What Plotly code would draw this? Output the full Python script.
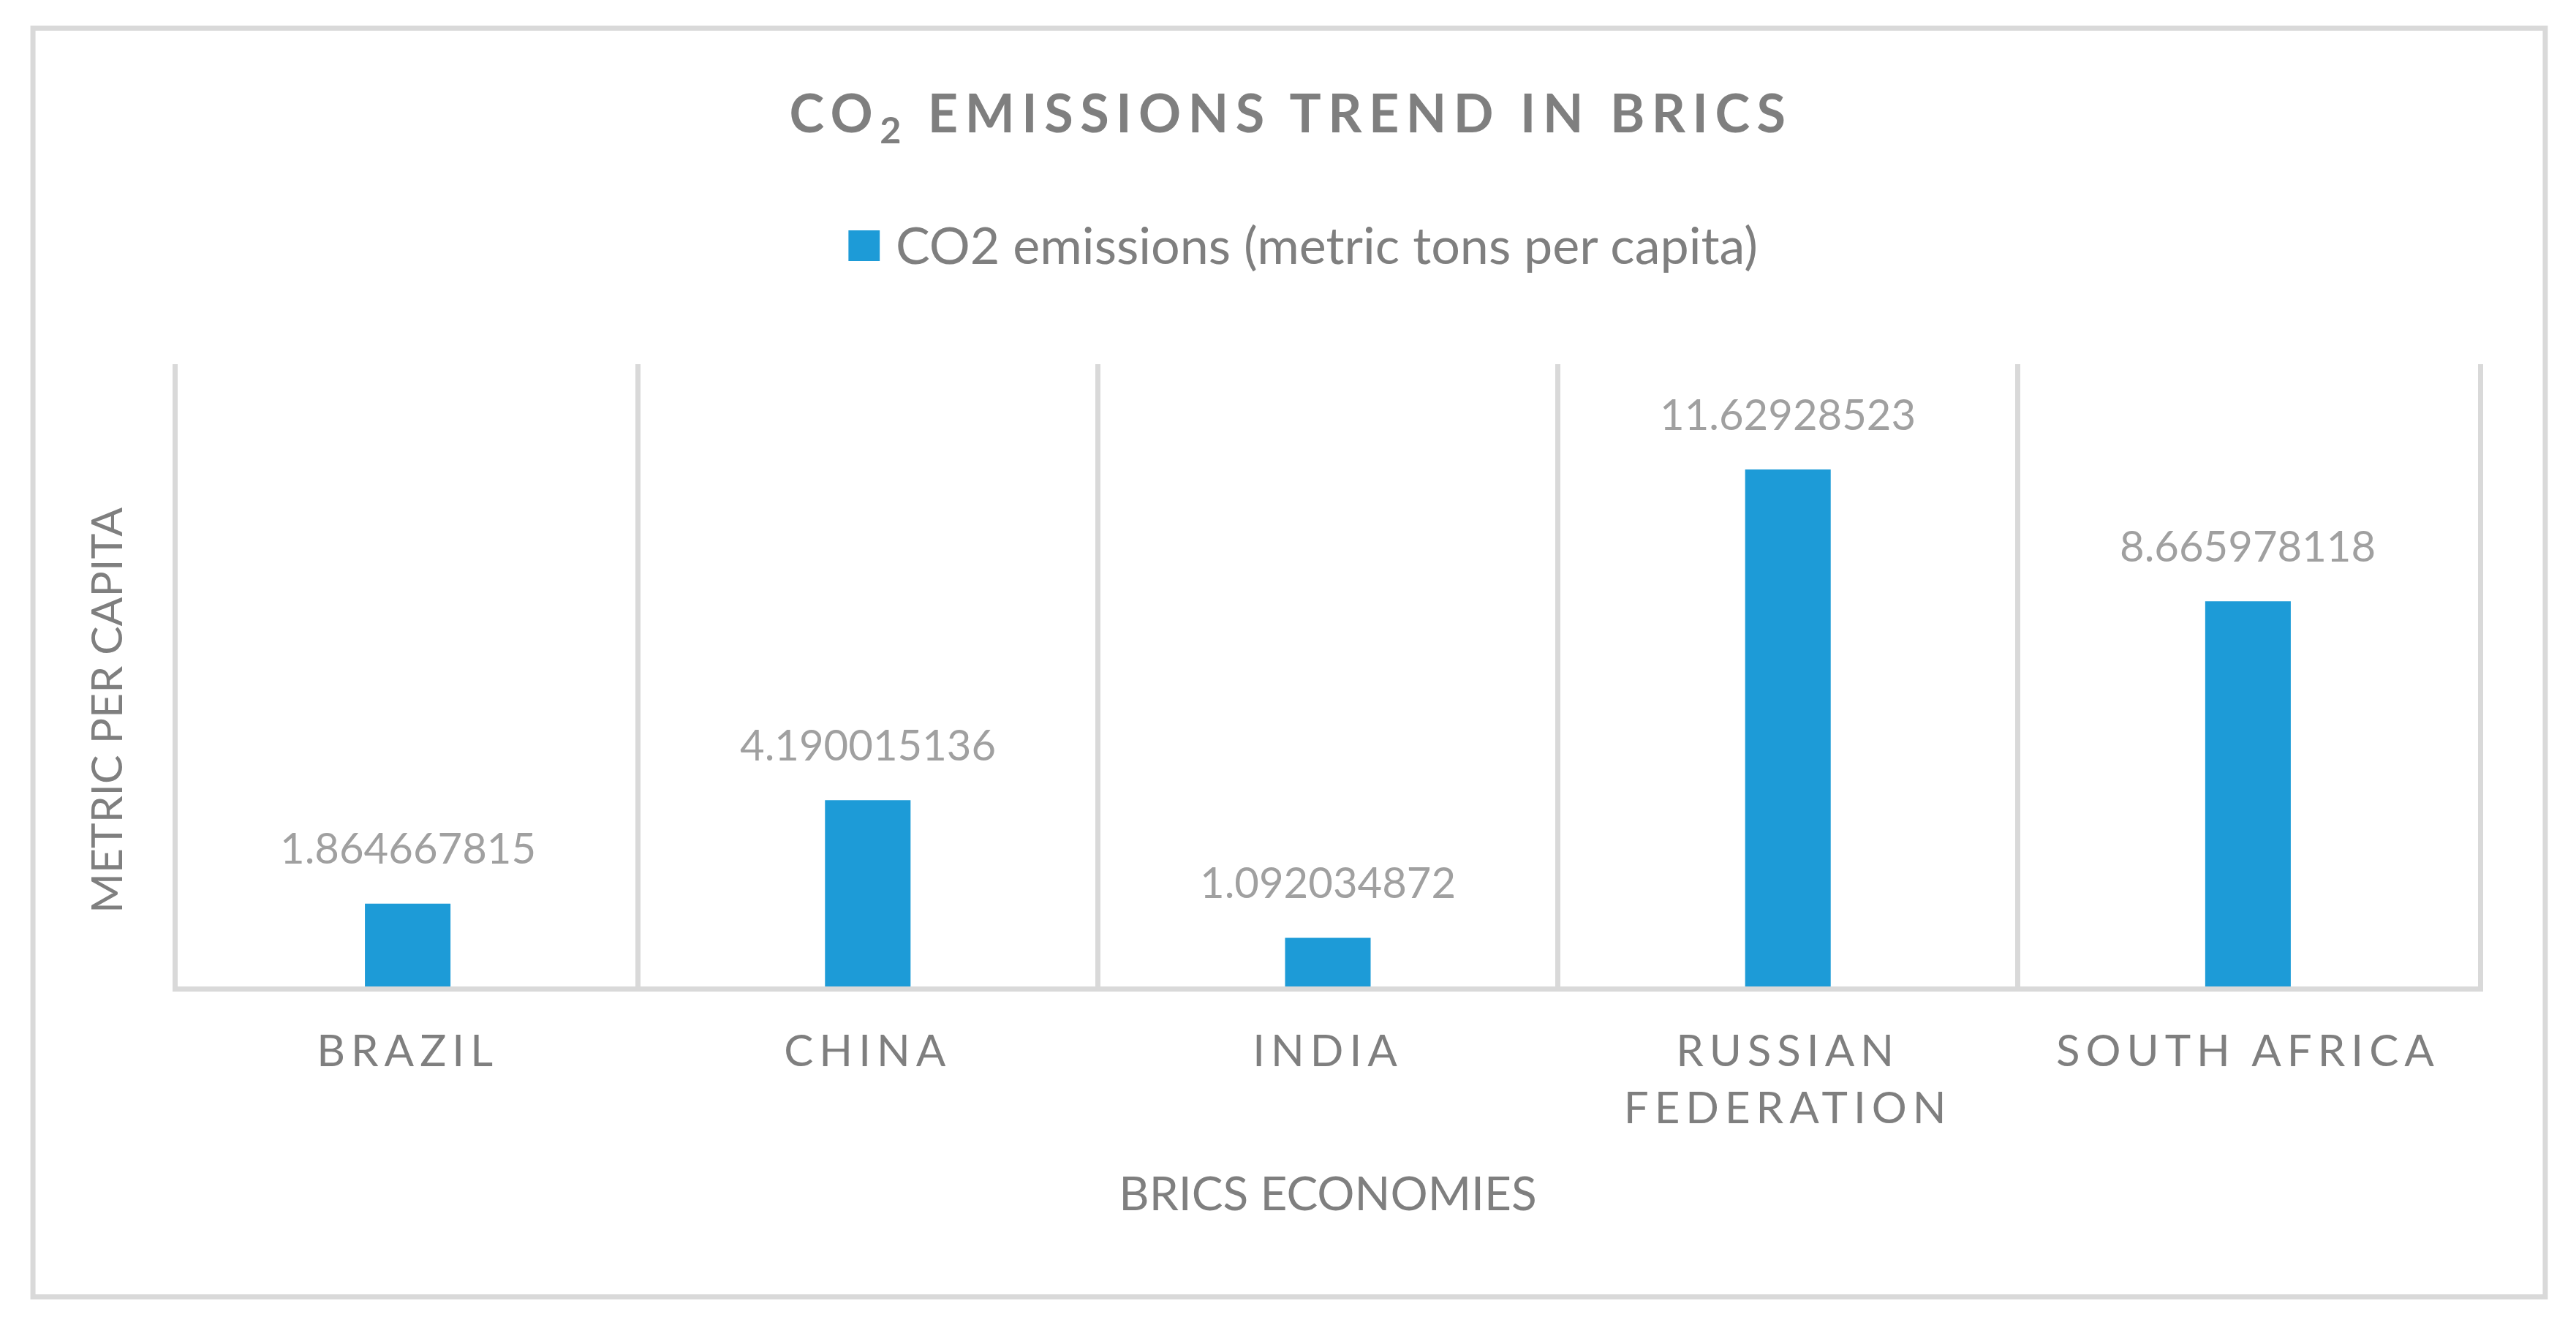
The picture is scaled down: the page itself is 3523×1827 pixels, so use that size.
import plotly.graph_objects as go

countries = ["BRAZIL", "CHINA", "INDIA", "RUSSIAN FEDERATION", "SOUTH AFRICA"]
tick_lines = [["BRAZIL"], ["CHINA"], ["INDIA"], ["RUSSIAN", "FEDERATION"], ["SOUTH AFRICA"]]
co2_per_capita = [1.864667815, 4.190015136, 1.092034872, 11.62928523, 8.665978118]
label_text = ["1.864667815", "4.190015136", "1.092034872", "11.62928523", "8.665978118"]
series_name = "CO2 emissions (metric tons per capita)"

FONT = "Lato"
GREY = "#7f7f7f"
LIGHT = "#d9d9d9"
BLUE = "#1d9bd7"


def spaced(s, px):
    return '<span style="letter-spacing:%spx">%s</span>' % (px, s)


tick_text = ["<br>".join(spaced(l, 8) for l in lines) for lines in tick_lines]

fig = go.Figure()
fig.add_trace(go.Bar(
    x=countries,
    y=co2_per_capita,
    name=series_name,
    marker=dict(color=BLUE, line=dict(width=0)),
    showlegend=False,
))

# value labels sitting above each bar
for c, v, t in zip(countries, co2_per_capita, label_text):
    fig.add_annotation(x=c, y=v, text=t, showarrow=False,
                       yanchor="middle", yshift=77,
                       font=dict(family=FONT, size=58, color="#a0a0a0"))

# legend key drawn by hand so the swatch can be as large as in the original
fig.add_shape(type="rect", xref="paper", yref="paper",
              x0=0.2916, x1=0.3052, y0=1.1657, y1=1.2150,
              fillcolor=BLUE, line=dict(width=0))
fig.add_annotation(xref="paper", yref="paper", x=0.3115, y=1.1927,
                   xanchor="left", yanchor="middle", showarrow=False,
                   text=series_name,
                   font=dict(family=FONT, size=70, color=GREY))

# y axis title
fig.add_annotation(xref="paper", yref="paper", x=-0.0315, y=0.444,
                   textangle=-90, showarrow=False,
                   xanchor="center", yanchor="middle",
                   text="METRIC PER CAPITA",
                   font=dict(family=FONT, size=59, color=GREY))

# outer chart border
fig.add_shape(type="rect", xref="paper", yref="paper",
              x0=-0.06292, x1=1.02923, y0=-0.49882, y1=1.53995,
              line=dict(color=LIGHT, width=7), layer="below")

# the page body has an 8px margin, so the figure is shrunk by that much
fig.update_layout(
    width=3515, height=1819,
    margin=dict(l=235, r=134, t=490, b=478),
    paper_bgcolor="white", plot_bgcolor="white",
    bargap=0.814,
    title=dict(text=spaced("CO<sub>2</sub> EMISSIONS TREND IN BRICS", 9.5),
               x=0.5, xanchor="center", y=0.919, yanchor="middle",
               font=dict(family=FONT, size=72, color=GREY, weight="bold")),
    font=dict(family=FONT, color=GREY),
)

fig.update_xaxes(
    type="category",
    tickmode="array", tickvals=countries, ticktext=tick_text,
    tickson="boundaries",
    showgrid=True, gridcolor=LIGHT, gridwidth=7,
    showline=True, linecolor=LIGHT, linewidth=7,
    ticks="", ticklabelstandoff=30,
    tickfont=dict(family=FONT, size=60, color=GREY),
    title=dict(text="BRICS ECONOMIES", standoff=65,
               font=dict(family=FONT, size=64, color=GREY)),
)
fig.update_yaxes(
    range=[0, 14],
    showgrid=False, zeroline=False, showticklabels=False,
    showline=True, mirror=True, linecolor=LIGHT, linewidth=7,
)

fig.write_html("out.html")
